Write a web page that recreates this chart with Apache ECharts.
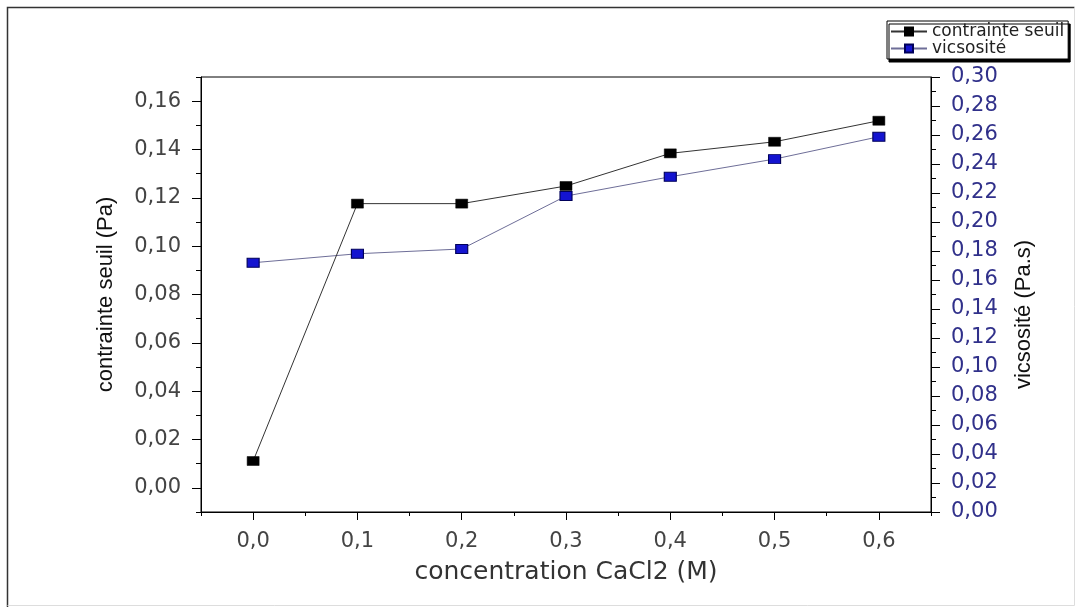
<!DOCTYPE html>
<html>
<head>
<meta charset="utf-8">
<script src="https://cdn.jsdelivr.net/npm/echarts@6/dist/echarts.min.js"></script>
<style>
html,body{margin:0;padding:0;background:#fff;}
#chart{width:1076px;height:607px;}
</style>
</head>
<body>
<div id="chart"></div>
<script>
// Data
var concentrations = [0.0, 0.1, 0.2, 0.3, 0.4, 0.5, 0.6];
var contrainteSeuil = [0.0111, 0.1176, 0.1176, 0.1249, 0.1384, 0.1432, 0.1519];
var viscosite = [0.1719, 0.1781, 0.1814, 0.2179, 0.2312, 0.2434, 0.2588];
var leftTicks = [0, 0.02, 0.04, 0.06, 0.08, 0.10, 0.12, 0.14, 0.16];
var xTicks = [0.0, 0.1, 0.2, 0.3, 0.4, 0.5, 0.6];
var seriesNames = ['contrainte seuil', 'vicsosité'];

function comma(v, d) { return v.toFixed(d).replace('.', ','); }

var chart = echarts.init(document.getElementById('chart'));
var labelFont = 'DejaVu Sans';
var nameFont = '"Liberation Sans", sans-serif';

var option = {
  backgroundColor: '#fff',
  animation: false,
  graphic: [{
    type: 'polyline',
    shape: { points: [[7.5, 607], [7.5, 7.5], [1074.5, 7.5]] },
    style: { fill: 'none', stroke: '#333', lineWidth: 1.5 },
    silent: true
  }, {
    type: 'polyline',
    shape: { points: [[1074.5, 7.5], [1074.5, 605.5], [7.5, 605.5]] },
    style: { fill: 'none', stroke: '#ddd', lineWidth: 1 },
    silent: true
  }],
  legend: {
    orient: 'vertical',
    left: 887,
    top: 21,
    itemWidth: 36,
    itemHeight: 10,
    itemGap: 0,
    padding: [2, 4, 2, 3],
    borderColor: '#000',
    borderWidth: 1,
    backgroundColor: '#fff',
    shadowColor: '#000',
    shadowOffsetX: 2,
    shadowOffsetY: 3,
    shadowBlur: 0,
    textStyle: { fontFamily: labelFont, fontSize: 17, color: '#222', lineHeight: 15 },
    data: seriesNames
  },
  grid: {
    left: 201, right: 145, top: 77, bottom: 95,
    show: true, borderColor: '#000', borderWidth: 1, backgroundColor: 'transparent'
  },
  xAxis: [{
    type: 'value',
    min: -0.05, max: 0.65,
    name: 'concentration CaCl2 (M)',
    nameLocation: 'middle',
    nameGap: 48,
    nameTextStyle: { fontFamily: labelFont, fontSize: 25, color: '#333' },
    axisLine: { show: true, onZero: false, lineStyle: { color: '#000', width: 1 } },
    axisTick: { show: true, length: 8, customValues: xTicks, lineStyle: { color: '#000' } },
    axisLabel: { customValues: xTicks, margin: 19, fontFamily: labelFont, fontSize: 21, color: '#444',
      formatter: function (v) { return comma(v, 1); } },
    splitLine: { show: false }
  }, {
    type: 'value',
    min: -0.05, max: 0.65, interval: 0.05,
    position: 'bottom',
    axisLine: { show: false, onZero: false },
    axisTick: { show: true, length: 4, lineStyle: { color: '#000' } },
    axisLabel: { show: false },
    splitLine: { show: false }
  }],
  yAxis: [{
    type: 'value',
    position: 'left',
    min: -0.01, max: 0.17,
    name: 'contrainte seuil (Pa)',
    nameLocation: 'middle',
    nameGap: 84,
    nameTextStyle: { fontFamily: nameFont, fontSize: 22, color: '#111' },
    axisLine: { show: true, onZero: false, lineStyle: { color: '#000', width: 1 } },
    axisTick: { show: true, length: 9, customValues: leftTicks, lineStyle: { color: '#000' } },
    axisLabel: { customValues: leftTicks, margin: 20, fontFamily: labelFont, fontSize: 21, color: '#444',
      formatter: function (v) { return comma(v, 2); } },
    splitLine: { show: false }
  }, {
    type: 'value',
    position: 'right',
    min: 0, max: 0.30, interval: 0.02,
    name: 'vicsosité (Pa.s)',
    nameLocation: 'middle',
    nameGap: 82,
    nameTextStyle: { fontFamily: nameFont, fontSize: 22, color: '#111', padding: [0, 40, 0, 0] },
    axisLine: { show: true, onZero: false, lineStyle: { color: '#000', width: 1 } },
    axisTick: { show: true, length: 9, lineStyle: { color: '#000' } },
    minorTick: { show: true, splitNumber: 2, length: 5, lineStyle: { color: '#000' } },
    axisLabel: { margin: 20, fontFamily: labelFont, fontSize: 21, color: '#30308a',
      formatter: function (v) { return comma(v, 2); } },
    splitLine: { show: false }
  }, {
    type: 'value',
    position: 'left',
    min: -0.01, max: 0.17, interval: 0.01,
    axisLine: { show: false, onZero: false },
    axisTick: { show: true, length: 5, lineStyle: { color: '#000' } },
    axisLabel: { show: false },
    splitLine: { show: false }
  }],
  series: [{
    name: seriesNames[0],
    type: 'line',
    xAxisIndex: 0,
    yAxisIndex: 0,
    data: concentrations.map(function (x, i) { return [x, contrainteSeuil[i]]; }),
    symbol: 'rect',
    symbolSize: [12, 9],
    showSymbol: true,
    lineStyle: { color: '#333', width: 1 },
    itemStyle: { color: '#000', borderColor: '#000', borderWidth: 0.5 },
    z: 3
  }, {
    name: seriesNames[1],
    type: 'line',
    xAxisIndex: 0,
    yAxisIndex: 1,
    data: concentrations.map(function (x, i) { return [x, viscosite[i]]; }),
    symbol: 'rect',
    symbolSize: [12, 9],
    showSymbol: true,
    lineStyle: { color: '#6e6e98', width: 1 },
    itemStyle: { color: '#1414d0', borderColor: '#00005a', borderWidth: 1 },
    z: 2
  }]
};
chart.setOption(option);
</script>
</body>
</html>
